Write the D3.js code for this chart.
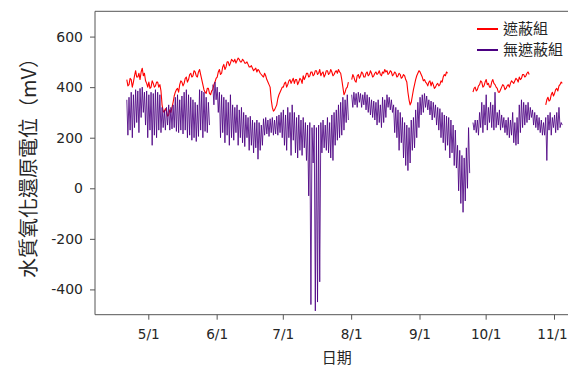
<!DOCTYPE html>
<html>
<head>
<meta charset="utf-8">
<script src="https://cdn.jsdelivr.net/npm/d3@7"></script>
<style>
  html, body { margin: 0; padding: 0; background: #fff; }
  svg { display: block; }
</style>
</head>
<body>
<svg id="chart" width="568" height="368"></svg>
<script>
// Daily series starting 2021-04-21; null marks days without readings.
const startDate = new Date(2021, 3, 21);

// 遮蔽組: morning and evening readings (mV)
const shieldedAM = [
  430,410,430,420,465,440,430,475,455,415,
  420,400,415,405,420,410,330,300,305,290,
  300,340,380,395,410,420,415,440,430,455,
  445,460,440,470,430,390,375,395,370,390,420,
  440,470,455,490,480,500,495,505,510,505,
  510,500,505,495,490,480,475,470,460,465,
  450,440,445,420,400,320,310,330,370,390,
  400,420,410,430,425,415,430,
  420,430,445,440,455,445,460,450,465,455,
  445,460,450,465,455,460,450,465,470,455,
  400,380,400,null,
  430,440,420,450,445,455,440,460,450,455,445,460,455,450,460,470,
  465,455,460,450,455,445,450,440,445,420,
  350,340,390,430,455,460,440,430,415,420,
  405,410,400,415,410,420,450,460,
  null,null,null,null,null,null,null,null,null,null,null,
  380,400,390,410,420,405,430,415,
  400,430,410,395,380,400,405,395,410,415,420,425,430,440,435,450,445,460,
  null,null,null,null,null,null,null,
  330,360,350,380,375,395,405,420
];
const shieldedPM = [
  405,435,400,445,440,455,460,445,425,400,
  395,425,400,420,400,385,305,315,285,310,
  320,365,390,380,425,405,435,420,450,440,
  465,445,460,450,410,380,395,375,385,410,435,
  460,450,480,470,500,485,510,500,495,515,
  500,510,495,500,480,485,465,475,470,455,
  445,455,430,410,350,305,320,355,380,400,
  415,400,425,415,435,430,410,
  435,415,430,455,440,460,445,465,450,470,
  455,440,465,450,470,445,460,455,460,430,
  370,395,420,null,
  450,425,445,435,460,440,455,445,465,440,455,450,465,445,455,460,
  450,465,445,460,440,455,435,450,430,380,
  330,365,410,445,465,450,425,420,405,425,
  420,395,410,405,425,440,445,455,
  null,null,null,null,null,null,null,null,null,null,null,
  395,385,405,425,400,420,410,400,
  420,415,400,380,390,410,390,405,400,425,415,435,420,430,450,440,455,450,
  null,null,null,null,null,null,null,
  350,345,370,365,390,385,410,415
];

// 無遮蔽組: daily high and low readings (mV)
const unshieldedHigh = [
  350,360,380,370,390,385,395,400,380,385,
  370,380,375,390,380,370,320,310,320,330,
  320,330,360,370,350,365,380,390,370,360,
  350,340,330,390,385,380,360,340,null,410,
  420,400,380,370,360,350,340,370,330,320,
  330,310,320,300,290,280,285,270,260,270,
  260,250,275,280,270,275,280,270,285,290,
  300,310,290,320,300,330,300,280,290,270,
  280,260,250,260,240,250,240,250,260,270,
  250,280,260,290,300,310,330,340,360,350,
  370,null,370,380,375,380,375,370,380,370,
  360,350,345,340,350,330,360,350,370,360,
  350,330,320,310,300,280,260,250,240,270,
  280,310,340,360,370,375,365,350,345,340,
  330,320,315,300,290,285,280,270,250,230,
  170,150,130,120,160,240,null,260,270,270,
  300,340,330,370,320,340,330,380,300,310,
  290,280,270,280,270,300,260,280,330,350,
  340,330,340,320,310,300,290,280,270,260,
  280,290,300,280,290,300,320,260
];
const unshieldedLow = [
  210,230,200,240,260,220,280,300,250,200,
  230,170,210,200,230,220,240,230,250,230,
  235,240,225,220,230,215,230,200,210,190,
  200,185,205,230,200,225,220,250,null,330,
  350,300,200,220,180,210,170,200,190,220,
  170,200,180,165,200,150,170,140,160,115,
  150,170,210,215,205,220,210,215,210,220,
  200,170,150,200,130,190,140,120,150,130,
  160,110,-30,-460,100,-485,-450,-370,140,160,
  150,140,120,110,170,190,200,210,230,260,
  270,null,320,330,320,340,320,330,310,300,
  290,280,270,250,260,240,260,280,320,310,
  300,220,200,150,180,120,90,70,100,150,
  160,200,240,290,300,320,310,290,270,280,
  250,230,200,180,150,170,120,140,90,80,
  -10,-60,-95,-50,0,60,null,230,220,210,
  240,220,250,230,260,240,230,240,250,230,
  240,220,210,200,210,180,170,175,220,240,
  250,260,270,280,250,240,230,220,210,210,
  110,230,210,240,220,230,240,250
];

const yTicks = [-400, -200, 0, 200, 400, 600];
const seriesNames = ["遮蔽組", "無遮蔽組"];
const seriesColors = ["#ff0000", "#4b0082"];

const svg = d3.select("#chart");
const plot = { left: 95, top: 11.3, right: 578, bottom: 314.7 };

const x = d3.scaleTime()
  .domain([new Date(2021, 4, 1), new Date(2021, 10, 1)])
  .range([148.3, 554]);
const y = d3.scaleLinear()
  .domain([-500, 700])
  .range([plot.bottom, plot.top]);

// Two timestamped readings per day for each series
function twiceDaily(first, second) {
  const pts = [];
  first.forEach((v, i) => {
    const day = d3.timeDay.offset(startDate, i);
    pts.push({ t: d3.timeHour.offset(day, 6), v });
    pts.push({ t: d3.timeHour.offset(day, 18), v: second[i] });
  });
  return pts;
}
const shieldedPts = twiceDaily(shieldedAM, shieldedPM);
const unshieldedPts = twiceDaily(unshieldedHigh, unshieldedLow);

svg.append("defs").append("clipPath").attr("id", "plotClip")
  .append("rect")
  .attr("x", plot.left).attr("y", plot.top)
  .attr("width", plot.right - plot.left).attr("height", plot.bottom - plot.top);

const line = d3.line()
  .defined(d => d.v !== null)
  .x(d => x(d.t))
  .y(d => y(d.v));

const g = svg.append("g").attr("clip-path", "url(#plotClip)");
g.append("path").datum(shieldedPts)
  .attr("d", line).attr("fill", "none")
  .attr("stroke", seriesColors[0]).attr("stroke-width", 1.1)
  .attr("stroke-linejoin", "round");
g.append("path").datum(unshieldedPts)
  .attr("d", line).attr("fill", "none")
  .attr("stroke", seriesColors[1]).attr("stroke-width", 0.85)
  .attr("stroke-linejoin", "round");

// Frame (left, top, bottom)
svg.append("path")
  .attr("d", `M${plot.right},${plot.top}H${plot.left}V${plot.bottom}H${plot.right}`)
  .attr("fill", "none").attr("stroke", "#555").attr("stroke-width", 1);

const tickFont = "'DejaVu Sans', sans-serif";
const cjkFont = "'Noto Sans CJK TC', 'Noto Sans CJK SC', sans-serif";

// Y axis
const yAxis = d3.axisLeft(y).tickValues(yTicks).tickSize(5).tickPadding(7)
  .tickFormat(d => String(d));
const gy = svg.append("g").attr("transform", `translate(${plot.left},0)`).call(yAxis);
gy.select(".domain").remove();
gy.selectAll(".tick line").attr("stroke", "#555");
gy.selectAll(".tick text").attr("font-family", tickFont).attr("font-size", 14)
  .attr("fill", "#262626");

// X axis
const months = d3.timeMonth.range(new Date(2021, 4, 1), new Date(2021, 10, 2));
const xAxis = d3.axisBottom(x)
  .tickValues(months)
  .tickSize(5).tickPadding(10)
  .tickFormat(d3.timeFormat("%-m/%-d"));
const gx = svg.append("g").attr("transform", `translate(0,${plot.bottom})`).call(xAxis);
gx.select(".domain").remove();
gx.selectAll(".tick line").attr("stroke", "#555");
gx.selectAll(".tick text").attr("font-family", tickFont).attr("font-size", 13.6)
  .attr("fill", "#262626");
// keep the last month label inside the canvas
gx.selectAll(".tick text").filter((d, i) => i === months.length - 1).attr("dx", -2);

// Axis titles
svg.append("text")
  .attr("x", 336.7).attr("y", 358).attr("dy", "0.35em")
  .attr("text-anchor", "middle")
  .attr("font-family", cjkFont).attr("font-size", 15).attr("fill", "#262626")
  .text("日期");
svg.append("text")
  .attr("transform", "translate(29,163) rotate(-90)")
  .attr("dy", "0.35em")
  .attr("text-anchor", "middle")
  .attr("font-family", cjkFont).attr("font-size", 20).attr("fill", "#262626")
  .text("水質氧化還原電位（mV）");

// Legend
const legend = svg.append("g");
seriesNames.forEach((name, i) => {
  const ly = 29 + i * 21;
  legend.append("line")
    .attr("x1", 477).attr("x2", 498).attr("y1", ly).attr("y2", ly)
    .attr("stroke", seriesColors[i]).attr("stroke-width", 2);
  legend.append("text")
    .attr("x", 503).attr("y", ly).attr("dy", "0.35em")
    .attr("font-family", cjkFont).attr("font-size", 15).attr("fill", "#262626")
    .text(name);
});
</script>
</body>
</html>
